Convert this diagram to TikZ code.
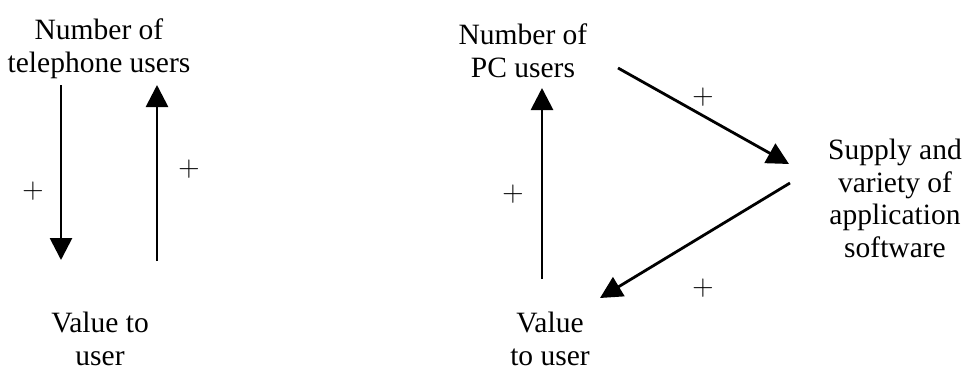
\documentclass[tikz,border=0pt]{standalone}
\usepackage{fontspec}
\setmainfont{Liberation Serif}
\newfontfamily\lmfont{Latin Modern Roman}
\usetikzlibrary{arrows.meta}
\tikzset{
  lbl/.style={align=center, anchor=base, inner sep=0pt, font=\fontsize{29.5}{32.5}\selectfont},
  pl/.style={inner sep=0pt, anchor=center, font=\lmfont\fontsize{29.5}{32}\selectfont},
  arr/.style={line width=2.8pt, -{Triangle[width=22pt,length=22pt]}}
}
\begin{document}
\begin{tikzpicture}[x=1pt,y=-1pt]
\useasboundingbox (0,0) rectangle (965,367);
% left panel
\node[lbl] (telu) at (99,72) {Number of\\telephone users};
\node[lbl] (valA) at (100,365) {Value to\\user};
\coordinate (a1s) at (61,85);
\coordinate (a1e) at (61,260);
\coordinate (a2s) at (157,261);
\coordinate (a2e) at (157,85);
\draw[arr] (a1s) -- (a1e);
\draw[arr] (a2s) -- (a2e);
\node[pl] (p1) at (33,191) {+};
\node[pl] (p2) at (189,169) {+};
% right panel
\node[lbl] (pcu) at (523,77) {Number of\\PC users};
\node[lbl] (sup) at (895,257) {Supply and\\variety of\\application\\software};
\node[lbl] (valB) at (550,365) {Value\\to user};
\coordinate (b1s) at (542,279);
\coordinate (b1e) at (542,88);
\coordinate (b2s) at (618,68);
\coordinate (b2e) at (789,164);
\coordinate (b3s) at (790,183);
\coordinate (b3e) at (600,298);
\draw[arr] (b1s) -- (b1e);
\draw[arr] (b2s) -- (b2e);
\draw[arr] (b3s) -- (b3e);
\node[pl] (p3) at (513,194) {+};
\node[pl] (p4) at (703,97) {+};
\node[pl] (p5) at (703,288) {+};
\end{tikzpicture}
\end{document}
